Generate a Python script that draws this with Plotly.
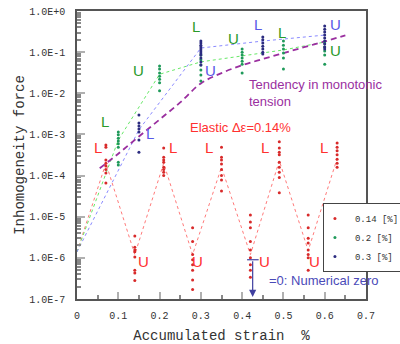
import math
import plotly.graph_objects as go

# ---------------- data ----------------
# zig-zag (elastic, 0.14 %) line
red_line_x = [0, 0.07, 0.14, 0.21, 0.28, 0.35, 0.42, 0.49, 0.56, 0.63]
red_line_y = [1.4e-6, 2.0e-4, 1.2e-6, 2.0e-4, 1.2e-6, 1.6e-4, 1.2e-6, 2.3e-4, 1.5e-6, 2.6e-4]

green_line_x = [0, 0.1, 0.2, 0.3, 0.4, 0.5, 0.6]
green_line_y = [1.4e-6, 7.3e-4, 2.9e-2, 5.8e-2, 8.1e-2, 1.13e-1, 1.76e-1]

blue_line_x = [0, 0.15, 0.3, 0.45, 0.6]
blue_line_y = [1.4e-6, 1.3e-3, 0.126, 0.186, 0.26]

# monotonic tension tendency
trend_x = [0.055, 0.1, 0.15, 0.2, 0.25, 0.3, 0.35, 0.4, 0.45, 0.5, 0.55, 0.6, 0.65]
trend_y = [1.5e-4, 3.4e-4, 8.9e-4, 2.3e-3, 6.0e-3, 1.74e-2, 3.1e-2, 4.8e-2, 6.8e-2, 9.5e-2, 0.132, 0.182, 0.257]

# scattered points (columns)
red_cols_x = [0.07, 0.14, 0.21, 0.28, 0.35, 0.42, 0.49, 0.56, 0.63]
red_cols_y = [
    [5.5e-4, 4.9e-4, 2.4e-4, 2.0e-4, 1.7e-4, 1.4e-4, 1.15e-4, 6.6e-5],
    [3.4e-6, 1.8e-6, 1.55e-6, 1.4e-6, 1.05e-6, 5.0e-7, 4.3e-7, 2.8e-7],
    [4.7e-4, 2.8e-4, 2.4e-4, 2.1e-4, 1.6e-4, 1.4e-4, 1.2e-4, 1.0e-4],
    [5.4e-6, 2.5e-6, 1.2e-6, 9.0e-7, 6.8e-7, 5.0e-7, 2.9e-7, 1.7e-7],
    [4.9e-4, 2.8e-4, 2.4e-4, 1.9e-4, 1.4e-4, 1.0e-4, 7.8e-5, 4.2e-5],
    [1.1e-5, 7.4e-6, 5.4e-6, 2.5e-6, 1.55e-6, 1.0e-6, 6.8e-7, 5.0e-7, 3.4e-7],
    [6.6e-4, 4.7e-4, 3.7e-4, 3.2e-4, 2.1e-4, 1.6e-4, 1.2e-4, 9.0e-5, 3.8e-5],
    [1.1e-5, 5.4e-6, 3.0e-6, 2.3e-6, 1.55e-6, 1.2e-6, 1.0e-6, 5.0e-7],
    [6.2e-4, 4.9e-4, 4.0e-4, 3.2e-4, 2.5e-4, 2.0e-4, 1.6e-4],
]
green_cols_x = [0.1, 0.2, 0.3, 0.4, 0.5, 0.6]
green_cols_y = [
    [1.15e-3, 9.8e-4, 8.1e-4, 6.9e-4, 5.9e-4, 4.9e-4, 2.1e-4, 1.8e-4],
    [4.6e-2, 3.9e-2, 3.1e-2, 2.6e-2, 2.2e-2, 1.8e-2, 1.15e-2],
    [8.5e-2, 6.5e-2, 4.9e-2, 3.7e-2, 2.8e-2, 2.0e-2],
    [0.12, 0.10, 0.085, 0.072, 0.060, 0.051, 0.031],
    [0.186, 0.148, 0.12, 0.095, 0.072, 0.039],
    [0.166, 0.133, 0.107, 0.085, 0.051],
]
blue_cols_x = [0.15, 0.3, 0.45, 0.6]
blue_cols_y = [
    [2.95e-3, 1.9e-3, 1.6e-3, 1.35e-3, 1.15e-3, 7.3e-4, 3.7e-4],
    [0.186, 0.166, 0.148, 0.133, 0.12, 0.107, 0.095, 0.085, 0.072, 0.058, 0.049],
    [0.234, 0.2, 0.166, 0.14, 0.12, 0.1, 0.09],
    [0.43, 0.36, 0.31, 0.26, 0.22, 0.186, 0.158, 0.133, 0.12],
]

series_names = ["0.14 [%]", "0.2 [%]", "0.3 [%]"]

y_tickvals = [1e-7, 1e-6, 1e-5, 1e-4, 1e-3, 1e-2, 1e-1, 1e0]
y_ticktext = ["1.0E-7", "1.0E-6", "1.0E-5", "1.0E-4", "1.0E-3", "1.0E-2", "1.0E-1", "1.0E+0"]

# cycle labels: (text, x, y)
red_labels = [("L", 0.051, 4.9e-4), ("L", 0.2325, 4.9e-4), ("L", 0.320, 4.9e-4),
              ("L", 0.455, 4.9e-4), ("L", 0.598, 4.9e-4),
              ("U", 0.162, 8.3e-7), ("U", 0.293, 8.3e-7), ("U", 0.455, 8.3e-7), ("U", 0.576, 8.3e-7)]
green_labels = [("L", 0.0685, 2.1e-3), ("U", 0.149, 3.6e-2), ("L", 0.289, 0.43),
                ("U", 0.3785, 0.22), ("L", 0.496, 0.295), ("U", 0.625, 0.107)]
blue_labels = [("L", 0.177, 1.07e-3), ("U", 0.323, 3.6e-2), ("L", 0.439, 0.457), ("U", 0.625, 0.48)]

# ---------------- colors ----------------
RED_LINE, RED_DOT, RED_TXT = "#ff7a7a", "#d82a2a", "#ff3030"
GREEN_LINE, GREEN_DOT, GREEN_TXT = "#66e866", "#1f9a5a", "#2a9a2a"
BLUE_LINE, BLUE_DOT, BLUE_TXT = "#8a8aff", "#2c2c80", "#5858e8"
PURPLE = "#9a2f9f"
MONO = "Liberation Mono, Courier New, monospace"
SANS = "Liberation Sans, Arial, sans-serif"


def flatten(xs, cols):
    fx, fy = [], []
    for x, col in zip(xs, cols):
        for v in col:
            fx.append(x)
            fy.append(v)
    return fx, fy


fig = go.Figure()

for lx, ly, c in [(red_line_x, red_line_y, RED_LINE),
                  (green_line_x, green_line_y, GREEN_LINE),
                  (blue_line_x, blue_line_y, BLUE_LINE)]:
    fig.add_trace(go.Scatter(x=lx, y=ly, mode="lines", showlegend=False, hoverinfo="skip",
                             line=dict(color=c, width=1, dash="dot")))

fig.add_trace(go.Scatter(x=trend_x, y=trend_y, mode="lines", showlegend=False,
                         line=dict(color=PURPLE, width=1.8, dash="6px,4px", shape="spline")))

for name, xs, cols, c in [(series_names[0], red_cols_x, red_cols_y, RED_DOT),
                          (series_names[1], green_cols_x, green_cols_y, GREEN_DOT),
                          (series_names[2], blue_cols_x, blue_cols_y, BLUE_DOT)]:
    fx, fy = flatten(xs, cols)
    fig.add_trace(go.Scatter(x=fx, y=fy, mode="markers", name=name,
                             marker=dict(color=c, size=3)))

annotations = []
for labels, col in [(red_labels, RED_TXT), (green_labels, GREEN_TXT), (blue_labels, BLUE_TXT)]:
    for t, x, y in labels:
        annotations.append(dict(x=x, y=math.log10(y), text=t, showarrow=False,
                                font=dict(family=SANS, size=15, color=col)))

annotations += [
    dict(x=0.397, y=math.log10(1.5e-3), text="Elastic \u0394\u03b5=0.14%", showarrow=False,
         font=dict(family=SANS, size=13, color=RED_TXT)),
    dict(x=0.411, y=math.log10(1.02e-2), text="Tendency in monotonic<br>tension", showarrow=False,
         xanchor="left", align="left", font=dict(family=SANS, size=13, color=PURPLE)),
    dict(x=0.459, y=math.log10(2.75e-7), text="=0: Numerical zero", showarrow=False,
         xanchor="left", font=dict(family=SANS, size=13, color="#4a4ab8")),
    dict(x=0.4255, y=math.log10(1.12e-7), ax=0.4255, ay=math.log10(9.0e-7),
         axref="x", ayref="y", text="", showarrow=True, arrowhead=2, arrowsize=1.2,
         arrowwidth=1.2, arrowcolor="#4040a0"),
]

fig.add_shape(type="line", x0=0.412, x1=0.440, y0=9.0e-7, y1=9.0e-7, xref="x", yref="y",
              line=dict(color="#4040a0", width=1.2))

fig.update_layout(
    width=400, height=344,
    margin=dict(l=77, r=34, t=11, b=45, autoexpand=False),
    paper_bgcolor="white", plot_bgcolor="white",
    annotations=annotations,
    legend=dict(x=0.851, y=0.333, xanchor="left", yanchor="top",
                bgcolor="white", bordercolor="#444", borderwidth=1,
                font=dict(family=MONO, size=9, color="#333"),
                indentation=-9, itemwidth=30, tracegroupgap=0),
    xaxis=dict(range=[0, 0.7], dtick=0.1, showgrid=False, zeroline=False,
               showline=True, linecolor="#555", linewidth=1.5, mirror=True,
               ticks="inside", ticklen=7, tickwidth=1.5, tickcolor="#b0b0b0",
               ticklabelstandoff=6,
               minor=dict(dtick=0.05, ticks="inside", ticklen=4, tickcolor="#888", showgrid=False),
               tickfont=dict(family=MONO, size=10, color="#333"),
               title=dict(text="Accumulated strain  %", standoff=10,
                          font=dict(family=MONO, size=14, color="#333"))),
    yaxis=dict(type="log", range=[-7, 0], tickvals=y_tickvals, ticktext=y_ticktext,
               showgrid=False, zeroline=False,
               showline=True, linecolor="#555", linewidth=1.5, mirror=True,
               ticks="inside", ticklen=8, tickwidth=2, tickcolor="#b0b0b0",
               ticklabelstandoff=8,
               minor=dict(dtick="D1", ticks="inside", ticklen=4, tickcolor="#888", showgrid=False),
               tickfont=dict(family=MONO, size=10, color="#333"),
               title=dict(text="Inhomogeneity force", standoff=1,
                          font=dict(family=MONO, size=14, color="#333"))),
)

fig.write_html("out.html")
